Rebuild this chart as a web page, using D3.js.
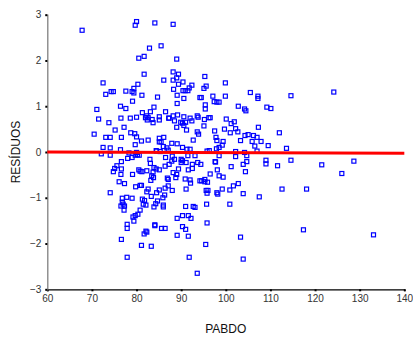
<!DOCTYPE html>
<html>
<head>
  <meta charset="utf-8">
  <style>
    body { margin: 0; background: #fff; }
    svg { font-family: "Liberation Sans", Arial, sans-serif; }
    .tick text { font-size: 10px; fill: #333; }
    .axis-title { font-size: 12px; fill: #111; }
  </style>
  <script src="https://d3js.org/d3.v7.min.js"></script>
</head>
<body>
<script>
// PABDO values (x) and matching residuals (y)
var pabdo = [
  67.8, 80.0, 79.7, 84.1, 82.9, 85.5, 80.5, 81.7, 81.7, 86.1, 72.5, 80.3, 79.4, 74.3, 74.8, 77.6,
  79.0, 79.4, 73.1, 81.2, 84.7, 79.1, 76.4, 77.6, 83.9, 71.1, 81.3, 83.1, 86.5, 82.3, 82.0, 82.6,
  82.4, 71.5, 76.5, 78.6, 80.0, 83.5, 85.1, 85.1, 87.2, 73.8, 83.7, 77.2, 75.2, 78.7, 79.6, 80.0,
  70.5, 73.1, 74.1, 76.6, 81.1, 82.6, 85.1, 86.1, 85.1, 85.5, 79.7, 72.5, 74.1, 76.4, 86.0, 86.8,
  84.5,
  88.2, 89.0, 88.2, 89.4, 89.0, 88.2, 90.4, 95.3, 99.9, 89.4, 92.4, 91.8, 90.4, 90.9, 91.5, 88.3,
  95.6, 95.1, 89.1, 90.6, 94.2, 94.5, 97.1, 99.9, 105.5, 107.2, 107.2, 95.4, 95.4, 97.4, 98.0, 98.5,
  89.1, 102.8, 104.2, 104.5, 109.2, 110.1, 87.3, 88.2, 89.2, 88.5, 90.6, 92.0, 92.4, 93.6, 93.8,
  89.9, 90.3, 91.0, 90.6, 89.0, 91.2, 95.2, 96.2, 96.5, 95.1, 100.1, 101.9, 102.2, 101.2, 99.7,
  97.5, 101.0, 102.7, 93.6, 93.9, 97.8, 98.0, 107.3, 104.3, 105.0, 106.2, 107.0, 107.9, 106.5,
  103.3, 105.9, 109.5, 99.4, 99.2, 98.5, 97.9, 92.7, 87.9, 89.1, 90.3, 91.3, 92.0, 96.3, 95.8,
  102.2, 104.2, 107.0,
  72.1, 74.1, 78.3, 79.0, 78.0, 80.0, 80.2, 80.6, 79.7, 84.4, 85.3, 86.5, 87.1, 76.6, 75.6, 75.1,
  74.8, 76.6, 76.5, 79.1, 80.5, 80.8, 81.2, 83.0, 83.1, 82.3, 83.9, 84.4, 85.1, 83.7, 83.4, 83.8,
  83.2, 86.4, 86.9, 76.1, 77.3, 74.1, 79.8, 80.8, 81.1, 82.6, 82.3, 83.3, 85.1, 84.5, 86.4, 87.1,
  85.9, 86.3, 76.8, 77.8, 79.0, 76.8, 77.0, 76.5, 77.3, 77.2, 81.3, 81.8, 81.5, 82.1, 84.7, 84.3,
  83.9, 86.0, 86.0, 80.8, 80.3, 79.7, 79.2, 79.4, 77.9, 77.9, 84.1, 84.1, 85.6, 86.4, 82.1, 82.3,
  81.7, 76.6, 81.1, 83.3, 77.9,
  88.0, 88.5, 87.9, 87.3, 90.0, 90.0, 90.3, 91.1, 91.5, 93.1, 92.5, 92.5, 93.7, 94.4, 89.4, 91.6,
  98.5, 97.6, 97.7, 102.2, 104.7, 104.7, 103.9, 104.4, 101.2, 98.1, 96.5, 98.5, 99.4, 88.2, 89.0,
  88.8, 87.1, 88.0, 90.9, 92.0, 92.1, 94.2, 94.6, 95.3, 95.3, 95.9, 91.1, 95.6, 96.0, 95.8, 98.0,
  98.2, 99.2, 100.9, 101.7, 102.8, 103.9, 107.5, 91.0, 92.7, 93.1, 95.7, 100.9, 90.3, 91.6, 89.1,
  92.2, 90.3, 91.0, 91.6, 89.1, 95.8, 103.3, 95.5, 91.8, 103.9, 93.6,
  111.6, 112.0, 114.6, 124.2, 113.6, 109.0, 109.0, 114.6, 121.5, 128.7, 126.0, 112.6, 118.1, 117.4,
  133.1
];
var residuos = [
  2.66, 2.85, 2.77, 2.82, 2.27, 2.32, 2.05, 2.09, 1.70, 1.57, 1.51, 1.48, 1.39, 1.32, 1.32, 1.33,
  1.32, 1.29, 1.26, 1.24, 1.20, 1.11, 1.00, 0.95, 0.98, 0.93, 0.86, 0.88, 0.88, 0.79, 0.75, 0.75,
  0.70, 0.72, 0.74, 0.74, 0.76, 0.71, 0.77, 0.70, 0.74, 0.64, 0.64, 0.54, 0.48, 0.42, 0.40, 0.33,
  0.39, 0.32, 0.32, 0.32, 0.24, 0.26, 0.30, 0.32, 0.22, 0.22, 0.16, 0.10, 0.09, 0.05, 0.12, 0.09,
  0.02,
  2.79, 2.03, 1.75, 1.70, 1.62, 1.57, 1.53, 1.65, 1.51, 1.48, 1.46, 1.40, 1.34, 1.34, 1.34, 1.37,
  1.44, 1.39, 1.24, 1.17, 1.19, 1.19, 1.22, 1.22, 1.30, 1.22, 1.17, 1.03, 0.94, 1.10, 1.09, 1.09,
  1.06, 1.00, 0.94, 0.90, 0.98, 0.95, 0.74, 0.79, 0.81, 0.68, 0.77, 0.74, 0.68, 0.79, 0.76,
  0.65, 0.63, 0.65, 0.58, 0.54, 0.48, 0.71, 0.75, 0.75, 0.57, 0.72, 0.66, 0.51, 0.62, 0.50,
  0.46, 0.42, 0.44, 0.44, 0.39, 0.32, 0.25, 0.54, 0.36, 0.38, 0.36, 0.32, 0.23, 0.13,
  0.25, 0.23, 0.14, 0.23, 0.15, 0.10, 0.07, 0.26, 0.19, 0.18, 0.10, 0.06, 0.06, 0.03, 0.02,
  0.01, -0.01, 0.02,
  -0.04, -0.07, -0.02, -0.12, -0.14, -0.01, -0.06, -0.07, -0.07, 0.03, 0.01, -0.12, 0.04, -0.21, -0.30, -0.36,
  -0.43, -0.37, -0.49, -0.49, -0.39, -0.42, -0.43, -0.16, -0.25, -0.41, -0.34, -0.37, -0.39, -0.44, -0.52, -0.56,
  -0.62, -0.31, -0.57, -0.65, -0.69, -0.89, -0.76, -0.73, -0.73, -0.81, -0.87, -0.97, -0.83, -0.89, -0.79, -0.74,
  -1.00, -0.94, -1.01, -0.99, -1.01, -1.10, -1.14, -1.18, -1.18, -1.27, -1.03, -1.06, -1.14, -1.16, -1.07, -1.13,
  -1.20, -1.16, -1.20, -1.27, -1.36, -1.39, -1.42, -1.51, -1.58, -1.67, -1.59, -1.61, -1.67, -1.67, -1.73, -1.75,
  -1.79, -1.91, -2.04, -2.06, -2.30,
  -0.09, -0.16, -0.20, -0.27, -0.16, -0.23, -0.19, -0.23, -0.08, -0.08, -0.27, -0.36, -0.23, -0.27, -0.37, -0.39,
  -0.08, -0.21, -0.22, -0.10, -0.08, -0.21, -0.27, -0.43, -0.32, -0.39, -0.48, -0.52, -0.55, -0.45, -0.49,
  -0.56, -0.60, -0.84, -0.59, -0.61, -0.68, -0.63, -0.63, -0.60, -0.65, -0.66, -0.81, -0.84, -0.84, -0.90, -0.89,
  -0.92, -0.81, -0.83, -0.74, -0.69, -0.91, -0.98, -1.19, -1.19, -1.21, -1.14, -1.14, -1.39, -1.39, -1.45,
  -1.45, -1.63, -1.69, -1.84, -1.82, -1.55, -1.86, -2.02, -2.30, -2.34, -2.65,
  -0.30, 0.42, 1.23, 1.31, 0.08, -0.18, -0.26, -0.18, -0.28, -0.20, -0.47, -0.81, -0.81, -1.70,
  -1.81
];

// fitted line across the x range
var fitX = [60, 140];
var fitY = [0.0, -0.03];

var xTicks = [60, 70, 80, 90, 100, 110, 120, 130, 140];
var yTicks = [-3, -2, -1, 0, 1, 2, 3];

var width = 413, height = 338;
var margin = { top: 14.7, right: 8.7, bottom: 48.7, left: 47.3 };
var w = width - margin.left - margin.right,
    h = height - margin.top - margin.bottom;

var svg = d3.select("body").append("svg")
  .attr("width", width)
  .attr("height", height);

var g = svg.append("g")
  .attr("transform", "translate(" + margin.left + "," + margin.top + ")");

var x = d3.scaleLinear().domain([60, 140]).range([0, w]);
var y = d3.scaleLinear().domain([-3, 3]).range([h, 0]);

// axes
var xAxis = g.append("g")
  .attr("transform", "translate(0," + h + ")")
  .call(d3.axisBottom(x).tickValues(xTicks).tickFormat(d3.format("d")).tickSize(2).tickPadding(4));
xAxis.select(".domain").attr("stroke", "#000").attr("stroke-width", 1.2);
xAxis.selectAll(".tick line").attr("stroke", "#000").attr("stroke-width", 2);

var yAxis = g.append("g")
  .call(d3.axisLeft(y).tickValues(yTicks).tickFormat(d3.format("d")).tickSize(2).tickPadding(4));
yAxis.select(".domain").attr("stroke", "#808080").attr("stroke-width", 1.3);
yAxis.selectAll(".tick line").attr("stroke", "#000").attr("stroke-width", 2);

// points: hollow blue squares
g.append("g").selectAll("rect")
  .data(pabdo)
  .enter().append("rect")
  .attr("x", function(d) { return x(d) - 2; })
  .attr("y", function(d, i) { return y(residuos[i]) - 2; })
  .attr("width", 4)
  .attr("height", 4)
  .attr("fill", "none")
  .attr("stroke", "#0000ff")
  .attr("stroke-width", 1.2);

// red fit line
var line = d3.line()
  .x(function(d) { return x(d); })
  .y(function(d, i) { return y(fitY[i]); });

g.append("path")
  .datum(fitX)
  .attr("d", line)
  .attr("fill", "none")
  .attr("stroke", "#ff0000")
  .attr("stroke-width", 3);

// titles
svg.append("text")
  .attr("class", "axis-title")
  .attr("x", margin.left + w / 2)
  .attr("y", 333)
  .attr("text-anchor", "middle")
  .text("PABDO");

svg.append("text")
  .attr("class", "axis-title")
  .attr("transform", "translate(20," + (margin.top + h / 2) + ") rotate(-90)")
  .attr("text-anchor", "middle")
  .text("RESÍDUOS");
</script>
</body>
</html>
